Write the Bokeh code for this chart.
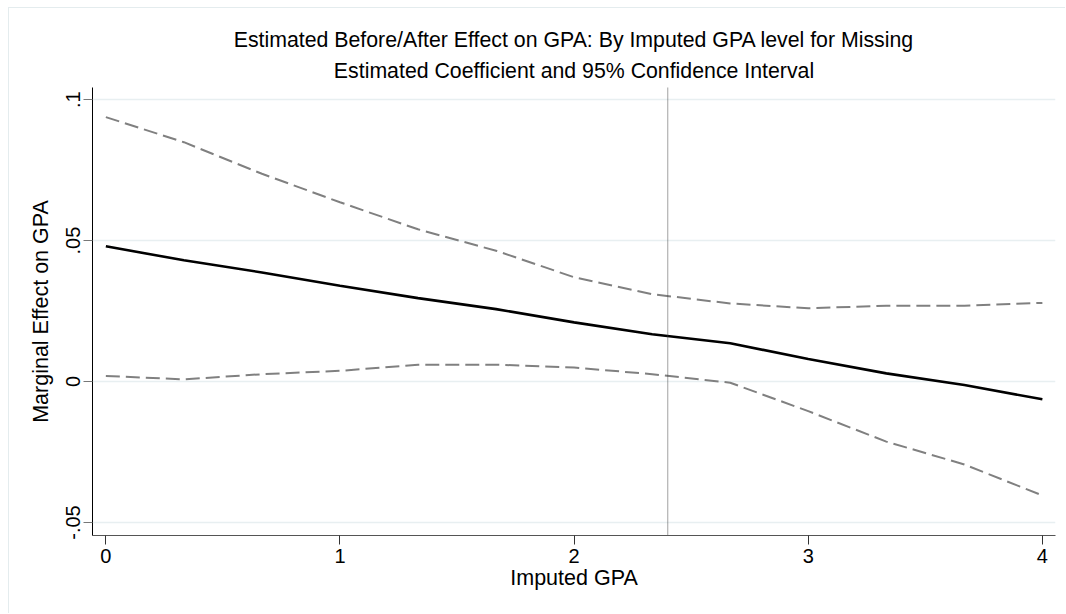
from bokeh.plotting import figure
from bokeh.models import FixedTicker, Span, Range1d, Title
from bokeh.embed import file_html
from bokeh.resources import INLINE

# ---- data ----
gpa = [0, 1/3, 2/3, 1, 4/3, 5/3, 2, 7/3, 8/3, 3, 10/3, 11/3, 4]
effect = [0.048, 0.043, 0.0387, 0.034, 0.0296, 0.0257, 0.021, 0.0168, 0.0136, 0.008, 0.0029, -0.0012, -0.0063]
upper = [0.0938, 0.0849, 0.0737, 0.0636, 0.0540, 0.0464, 0.037, 0.031, 0.0277, 0.026, 0.0269, 0.0269, 0.0279]
lower = [0.002, 0.0008, 0.0026, 0.0038, 0.006, 0.006, 0.005, 0.0026, -0.0004, -0.0105, -0.0213, -0.0294, -0.0404]
ref_x = 2.4
x_ticks = [0, 1, 2, 3, 4]
x_tick_labels = ["0", "1", "2", "3", "4"]
y_ticks = [-0.05, 0, 0.05, 0.1]
y_tick_labels = ["-.05", "0", ".05", ".1"]

title1 = "Estimated Before/After Effect on GPA: By Imputed GPA level for Missing"
title2 = "Estimated Coefficient and 95% Confidence Interval"

FONT = "Liberation Sans"

p = figure(width=1057, height=606, output_backend="svg", toolbar_location=None,
           x_range=Range1d(-0.057, 4.056), y_range=Range1d(-0.0546, 0.1043),
           min_border_left=83, min_border_right=11, min_border_top=79, min_border_bottom=79)
p.styles = {"margin-left": "8px", "margin-top": "7px",
            "border-left": "1px solid #e4ecee", "border-top": "1px solid #e4ecee"}
p.outline_line_color = None
p.background_fill_color = "white"
p.border_fill_color = "white"

# titles (first added sits closest to the plot)
for t, so in [(title2, 10), (title1, 0)]:
    p.add_layout(Title(text=t, align="center", text_font=FONT, text_font_size="21.3px",
                       text_font_style="normal", text_color="black", standoff=so), "above")

# grid
p.xgrid.grid_line_color = None
p.ygrid.grid_line_color = "#e8eff1"
p.ygrid.grid_line_width = 1.5
p.ygrid.ticker = FixedTicker(ticks=y_ticks)

# axes
p.xaxis.ticker = FixedTicker(ticks=x_ticks)
p.xaxis.major_label_overrides = {t: l for t, l in zip(x_ticks, x_tick_labels)}
p.yaxis.ticker = FixedTicker(ticks=y_ticks)
p.yaxis.major_label_overrides = {t: l for t, l in zip(y_ticks, y_tick_labels)}
p.yaxis.major_label_orientation = "vertical"
for ax in (p.xaxis, p.yaxis):
    ax.minor_tick_line_color = None
    ax.major_tick_out = 9
    ax.major_tick_in = 0
    ax.major_label_text_font = FONT
    ax.major_label_text_font_size = "20px"
    ax.major_label_text_color = "black"
    ax.axis_label_text_font = FONT
    ax.axis_label_text_font_size = "21.5px"
    ax.axis_label_text_font_style = "normal"
    ax.axis_label_text_color = "black"
p.xaxis.axis_line_color = "#555555"
p.xaxis.major_tick_line_color = "#333333"
p.yaxis.axis_line_color = "black"
p.yaxis.major_tick_line_color = "#777777"
p.xaxis.major_label_standoff = 4
p.yaxis.major_label_standoff = 3
p.xaxis.axis_label = "Imputed GPA"
p.yaxis.axis_label = "Marginal Effect on GPA"
p.xaxis.axis_label_standoff = 0
p.yaxis.axis_label_standoff = 11

# lines
p.line(gpa, upper, line_color="#808080", line_width=2, line_dash="14 6")
p.line(gpa, lower, line_color="#808080", line_width=2, line_dash="14 6")
p.line(gpa, effect, line_color="black", line_width=2.6)

p.add_layout(Span(location=ref_x, dimension="height", line_color="#444444",
                  line_width=1, line_dash="1 1"))

open("out.html", "w").write(file_html(p, INLINE))
